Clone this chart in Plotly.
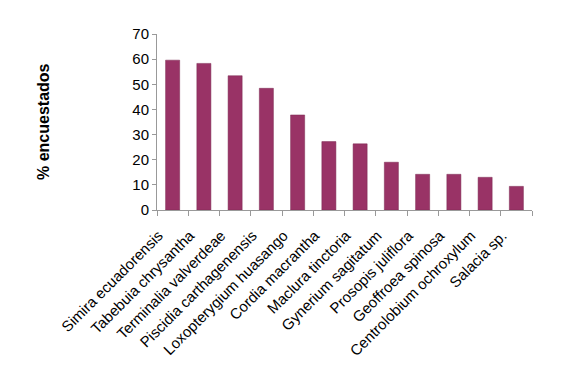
import plotly.graph_objects as go

species = ["Simira ecuadorensis", "Tabebuia chrysantha", "Terminalia valverdeae",
           "Piscidia carthagenensis", "Loxopterygium huasango", "Cordia macrantha",
           "Maclura tinctoria", "Gynerium sagitatum", "Prosopis juliflora",
           "Geoffroea spinosa", "Centrolobium ochroxylum", "Salacia sp."]
percent = [59.6, 58.3, 53.4, 48.4, 37.8, 27.2, 26.3, 19.0, 14.2, 14.2, 13.0, 9.4]
y_ticks = [0, 10, 20, 30, 40, 50, 60, 70]

fig = go.Figure(go.Bar(
    x=species, y=percent, width=0.45,
    marker=dict(color="#993366", line=dict(color="#7a2850", width=0.5)),
))

font = "Liberation Sans, Arial, sans-serif"
# page has an 8px body margin, so margins are offset accordingly
fig.update_layout(
    width=563, height=382,
    margin=dict(l=149, r=39, t=26, b=180, autoexpand=False),
    paper_bgcolor="white", plot_bgcolor="white",
    showlegend=False,
    font=dict(family=font, size=15, color="black"),
)
fig.update_xaxes(
    tickangle=-45, tickson="boundaries", ticks="outside", ticklen=5,
    tickcolor="#999999", showline=True, linecolor="#999999", linewidth=1,
    showgrid=False, tickfont=dict(size=15), automargin=False,
    ticklabelstandoff=10, ticklabelshift=-14,
)
fig.update_yaxes(
    range=[0, 70], tickvals=y_ticks, ticks="outside", ticklen=4,
    tickcolor="#999999", showline=True, linecolor="#999999", linewidth=1,
    showgrid=False, zeroline=False, tickfont=dict(size=15), automargin=False,
)
fig.add_annotation(
    text="<b>% encuestados</b>", xref="paper", yref="paper",
    x=(35 - 149) / 375, y=(202 - 114) / 176, xanchor="center", yanchor="middle",
    textangle=-90, showarrow=False, font=dict(size=16),
)
fig.write_html("out.html")
